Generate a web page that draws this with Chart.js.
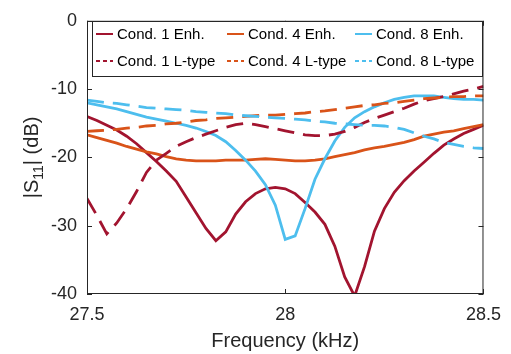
<!DOCTYPE html>
<html>
<head>
<meta charset="utf-8">
<script src="https://cdn.jsdelivr.net/npm/chart.js@4"></script>
<style>
  html, body { margin: 0; padding: 0; background: #fff; }
  canvas { display: block; }
</style>
</head>
<body>
<canvas id="s11Chart" width="511" height="354"></canvas>
<script>
const freqs = [27.5, 27.525, 27.55, 27.575, 27.6, 27.625, 27.65, 27.675, 27.7, 27.725,
  27.75, 27.775, 27.8, 27.825, 27.85, 27.875, 27.9, 27.925, 27.95, 27.975,
  28.0, 28.025, 28.05, 28.075, 28.1, 28.125, 28.15, 28.175, 28.2, 28.225,
  28.25, 28.275, 28.3, 28.325, 28.35, 28.375, 28.4, 28.425, 28.45, 28.475, 28.5];

const cond1Enh = [-14.0, -14.6, -15.3, -16.0, -16.9, -18.0, -19.3, -20.6, -22.0, -23.5,
  -25.8, -28.1, -30.4, -32.2, -30.9, -28.3, -26.5, -25.3, -24.6, -24.4,
  -24.6, -25.3, -26.6, -28.0, -29.8, -33.0, -37.5, -40.3, -36.0, -30.8,
  -27.5, -25.1, -23.4, -22.0, -20.7, -19.4, -18.2, -17.3, -16.5, -15.9, -15.3];

const cond4Enh = [-16.7, -17.1, -17.5, -17.9, -18.4, -18.8, -19.2, -19.5, -19.9, -20.2,
  -20.4, -20.5, -20.5, -20.5, -20.4, -20.4, -20.4, -20.3, -20.2, -20.3,
  -20.4, -20.5, -20.5, -20.4, -20.2, -19.9, -19.6, -19.3, -18.9, -18.6,
  -18.4, -18.1, -17.8, -17.4, -16.9, -16.6, -16.3, -16.1, -15.8, -15.5, -15.2];

const cond8Enh = [-12.0, -12.3, -12.6, -12.9, -13.3, -13.7, -14.1, -14.4, -14.7, -15.0,
  -15.3, -15.7, -16.2, -16.8, -17.7, -19.0, -20.4, -22.0, -24.0, -27.0,
  -32.0, -31.5, -27.5, -23.2, -20.2, -17.6, -15.6, -14.2, -13.3, -12.6,
  -12.0, -11.5, -11.2, -11.0, -11.0, -11.0, -11.2, -11.4, -11.5, -11.5, -11.6];

const cond1L = [-26.0, -28.5, -31.2, -29.6, -27.5, -25.0, -22.2, -20.4, -19.4, -18.4,
  -17.7, -17.1, -16.6, -16.1, -15.6, -15.2, -15.0, -15.2, -15.5, -15.8,
  -16.1, -16.4, -16.7, -16.8, -16.8, -16.6, -16.2, -15.6, -14.9, -14.3,
  -13.8, -13.3, -12.8, -12.2, -11.7, -11.4, -11.1, -10.7, -10.3, -10.0, -9.6];

const cond4L = [-16.2, -16.1, -16.0, -15.9, -15.7, -15.6, -15.4, -15.3, -15.1, -15.0,
  -14.8, -14.6, -14.5, -14.3, -14.2, -14.1, -14.0, -13.9, -13.8, -13.8,
  -13.7, -13.6, -13.5, -13.3, -13.2, -13.0, -12.8, -12.6, -12.4, -12.3,
  -12.1, -12.0, -11.8, -11.6, -11.4, -11.3, -11.2, -11.1, -11.1, -11.0, -11.0];

const cond8L = [-11.6, -11.8, -12.0, -12.1, -12.3, -12.5, -12.7, -12.8, -12.9, -13.0,
  -13.1, -13.3, -13.4, -13.5, -13.6, -13.8, -13.9, -14.0, -14.1, -14.2,
  -14.3, -14.4, -14.5, -14.7, -14.8, -15.0, -15.1, -15.2, -15.3, -15.3,
  -15.4, -15.6, -15.9, -16.4, -16.9, -17.3, -17.8, -18.1, -18.4, -18.6, -18.7];

const seriesLabels = ["Cond. 1 Enh.", "Cond. 4 Enh.", "Cond. 8 Enh.",
  "Cond. 1 L-type", "Cond. 4 L-type", "Cond. 8 L-type"];
const seriesValues = [cond1Enh, cond4Enh, cond8Enh, cond1L, cond4L, cond8L];
const seriesColors = ["#A2142F", "#D95319", "#4DBEEE", "#A2142F", "#D95319", "#4DBEEE"];
const seriesDashed = [false, false, false, true, true, true];

const xTitle = "Frequency (kHz)";
const axisColor = "#262626";
const fontFamily = "'Liberation Sans', Arial, Helvetica, sans-serif";

function makeDataset(i) {
    return {
        label: seriesLabels[i],
        data: freqs.map((f, k) => ({ x: f, y: seriesValues[i][k] })),
        borderColor: seriesColors[i],
        borderWidth: 2.8,
        borderDash: seriesDashed[i] ? [17, 9] : [],
        pointRadius: 0,
        tension: 0,
        fill: false,
        order: 6 - i
    };
}

// box, inward ticks, titles and legend, drawn the MATLAB way
const decorPlugin = {
    id: "decor",
    afterDraw(chart) {
        const ctx = chart.ctx;
        const a = chart.chartArea;
        const xs = chart.scales.x, ys = chart.scales.y;
        const tl = 5;
        ctx.save();
        ctx.strokeStyle = axisColor;
        ctx.lineWidth = 1;
        ctx.setLineDash([]);
        ctx.strokeRect(a.left + 0.5, a.top + 0.5, a.right - a.left - 1, a.bottom - a.top - 1);

        ctx.beginPath();
        xs.ticks.forEach(t => {
            const px = Math.round(xs.getPixelForValue(t.value)) + 0.5;
            ctx.moveTo(px, a.bottom); ctx.lineTo(px, a.bottom - tl);
            ctx.moveTo(px, a.top); ctx.lineTo(px, a.top + tl);
        });
        ys.ticks.forEach(t => {
            const py = Math.round(ys.getPixelForValue(t.value)) + 0.5;
            ctx.moveTo(a.left, py); ctx.lineTo(a.left + tl, py);
            ctx.moveTo(a.right, py); ctx.lineTo(a.right - tl, py);
        });
        ctx.stroke();

        // x title
        ctx.fillStyle = axisColor;
        ctx.font = "20px " + fontFamily;
        ctx.textAlign = "center";
        ctx.textBaseline = "middle";
        ctx.fillText(xTitle, (a.left + a.right) / 2, 341);

        // y title with subscript
        ctx.save();
        ctx.translate(31, (a.top + a.bottom) / 2);
        ctx.rotate(-Math.PI / 2);
        ctx.textAlign = "left";
        ctx.textBaseline = "alphabetic";
        const big = "20px " + fontFamily, small = "14px " + fontFamily;
        ctx.font = big;
        const w1 = ctx.measureText("|S").width;
        const w3 = ctx.measureText("| (dB)").width;
        ctx.font = small;
        const w2 = ctx.measureText("11").width;
        let x0 = -(w1 + w2 + w3) / 2;
        ctx.font = big;
        ctx.fillText("|S", x0, 7);
        ctx.font = small;
        ctx.fillText("11", x0 + w1, 12);
        ctx.font = big;
        ctx.fillText("| (dB)", x0 + w1 + w2, 7);
        ctx.restore();

        // legend
        const lx = 92, ly = 21, lw = 390, lh = 55;
        ctx.fillStyle = "#fff";
        ctx.fillRect(lx, ly, lw, lh);
        ctx.strokeStyle = axisColor;
        ctx.strokeRect(lx + 0.5, ly + 0.5, lw, lh);
        const colX = [96, 227, 355];
        const rowY = [34, 61];
        ctx.font = "15px " + fontFamily;
        ctx.textAlign = "left";
        ctx.textBaseline = "middle";
        chart.data.datasets.forEach((ds, i) => {
            const cx = colX[i % 3], cy = rowY[Math.floor(i / 3)];
            ctx.strokeStyle = ds.borderColor;
            ctx.lineWidth = 2;
            ctx.setLineDash(ds.borderDash.length ? [4, 3] : []);
            ctx.beginPath();
            ctx.moveTo(cx, cy); ctx.lineTo(cx + 17, cy);
            ctx.stroke();
            ctx.setLineDash([]);
            ctx.fillStyle = "#000";
            ctx.fillText(ds.label, cx + 21, cy + 1);
        });
        ctx.restore();
    }
};

const tickFont = { size: 18, family: fontFamily };

const chart = new Chart(document.getElementById("s11Chart").getContext("2d"), {
    type: "line",
    data: { datasets: seriesValues.map((_, i) => makeDataset(i)) },
    options: {
        responsive: false,
        animation: false,
        devicePixelRatio: 1,
        layout: { padding: { left: 0, right: 25, top: 14, bottom: 0 } },
        plugins: { legend: { display: false }, tooltip: { enabled: false } },
        scales: {
            x: {
                type: "linear",
                min: 27.5, max: 28.5,
                afterFit: s => { s.height = 60; },
                grid: { display: false, drawTicks: false },
                border: { display: false },
                ticks: { stepSize: 0.5, padding: 10, color: axisColor, font: tickFont,
                         callback: v => String(v) }
            },
            y: {
                min: -40, max: 0,
                afterFit: s => { s.width = 87; },
                grid: { display: false, drawTicks: false },
                border: { display: false },
                ticks: { stepSize: 10, padding: 10, color: axisColor, font: tickFont,
                         callback: v => String(v) }
            }
        }
    },
    plugins: [decorPlugin]
});
</script>
</body>
</html>
